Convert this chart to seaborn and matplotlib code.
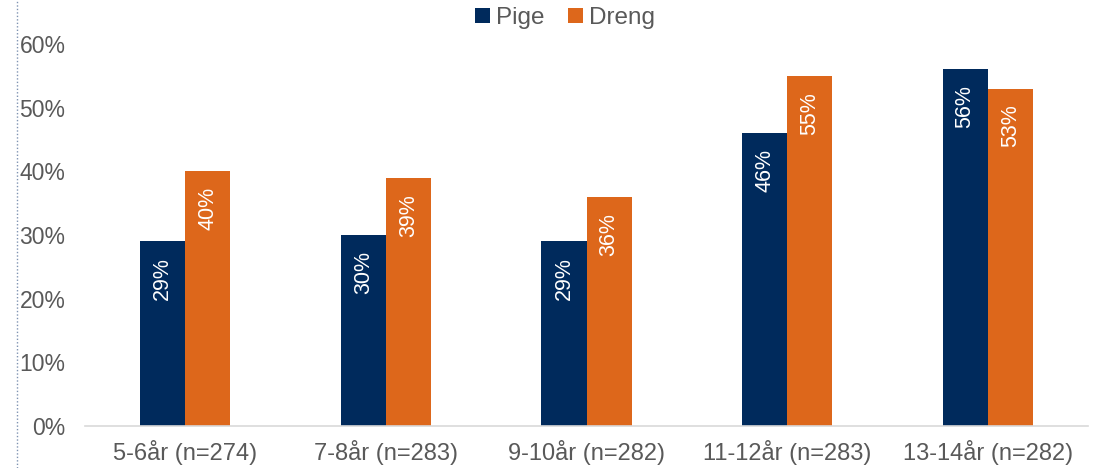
import matplotlib
matplotlib.use("Agg")
import matplotlib.pyplot as plt
import seaborn as sns
import pandas as pd
from matplotlib.lines import Line2D
from matplotlib.patches import Patch

categories = ["5-6år (n=274)", "7-8år (n=283)", "9-10år (n=282)", "11-12år (n=283)", "13-14år (n=282)"]
pige = [0.29, 0.30, 0.29, 0.46, 0.56]
dreng = [0.40, 0.39, 0.36, 0.55, 0.53]
series = ["Pige", "Dreng"]
yticks = [0, 0.1, 0.2, 0.3, 0.4, 0.5, 0.6]

colors = {"Pige": "#002A5C", "Dreng": "#DD671B"}

df = pd.DataFrame({
    "cat": categories * 2,
    "val": pige + dreng,
    "series": ["Pige"] * len(categories) + ["Dreng"] * len(categories),
})

sns.set_theme(style="white")
plt.rcParams["font.family"] = ["Liberation Sans", "DejaVu Sans"]

fig = plt.figure(figsize=(10.99, 4.68), dpi=100)
ax = fig.add_axes([85 / 1099, 42 / 468, (1088 - 85) / 1099, (426 - 44) / 468])

sns.barplot(data=df, x="cat", y="val", hue="series", hue_order=series,
            palette=colors, width=0.45, gap=0, ax=ax, legend=False,
            saturation=1, edgecolor="none", linewidth=0)

ax.set_ylim(0, 0.6)
ax.set_xlim(-0.5, len(categories) - 0.5)
ax.set_yticks(yticks)
ax.set_yticklabels([f"{int(round(t * 100))}%" for t in yticks])
ax.set_xlabel("")
ax.set_ylabel("")
for s in ["top", "right", "left"]:
    ax.spines[s].set_visible(False)
ax.spines["bottom"].set_color("#D9D9D9")
ax.spines["bottom"].set_linewidth(1.2)
ax.tick_params(axis="y", length=0, labelsize=16.5, colors="#595959", pad=14)
ax.tick_params(axis="x", length=0, labelsize=17, colors="#595959", pad=10)

for container in ax.containers:
    for bar in container:
        h = bar.get_height()
        ax.annotate(f"{int(round(h * 100))}%",
                    xy=(bar.get_x() + bar.get_width() / 2, h),
                    xytext=(0, -27), textcoords="offset points",
                    rotation=90, ha="center", va="center",
                    color="white", fontsize=15.5)

handles = [Patch(facecolor=colors[s], edgecolor="none") for s in series]
fig.legend(handles, series, loc="center", bbox_to_anchor=(565 / 1099, 1 - 18 / 468),
           ncol=2, frameon=False, fontsize=17.5, handlelength=0.6, handleheight=0.6,
           handletextpad=0.25, columnspacing=1.0, labelcolor="#595959")

fig.add_artist(Line2D([17 / 1099, 17 / 1099], [0, 1], transform=fig.transFigure,
                      color="#7F93B2", linestyle=(0, (1, 1.5)), linewidth=1))

fig.savefig("out.png", dpi=100)
